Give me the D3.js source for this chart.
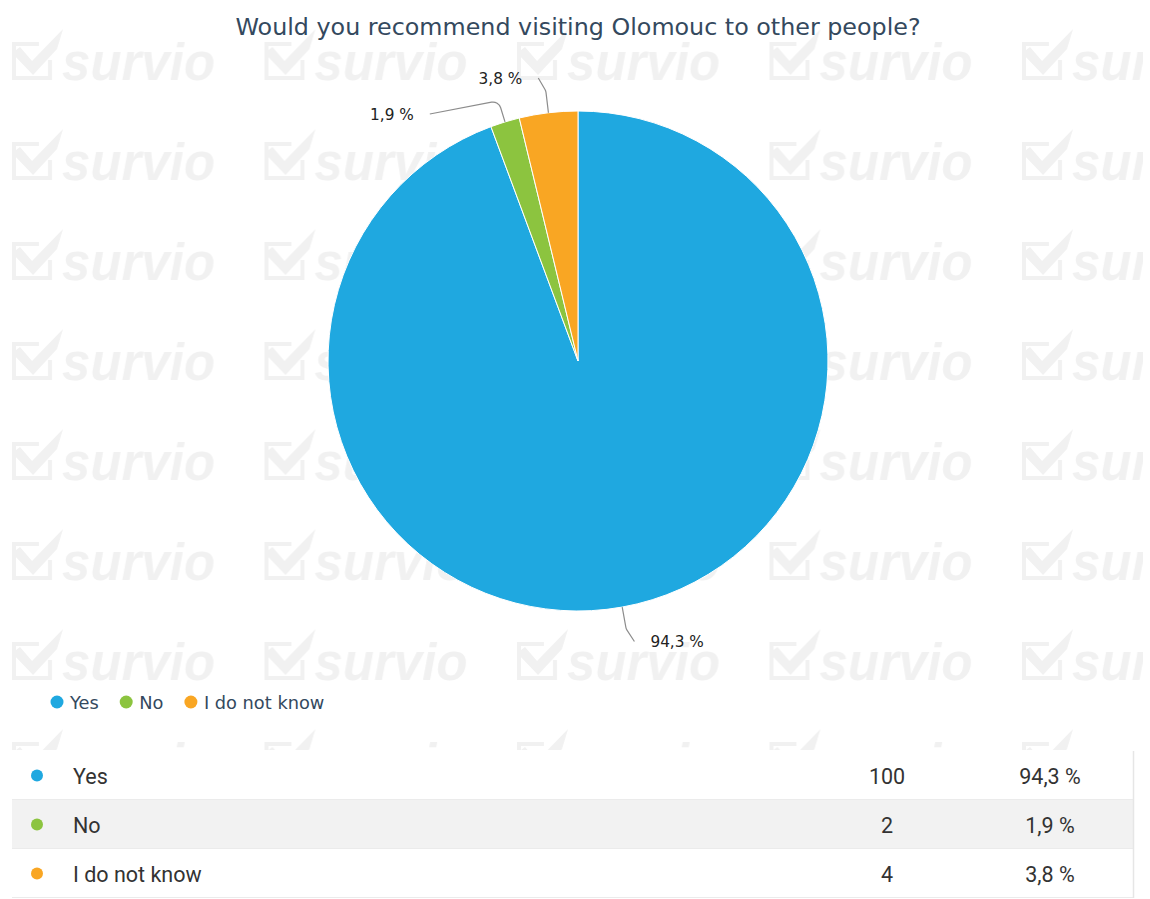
<!DOCTYPE html>
<html>
<head>
<meta charset="utf-8">
<script src="https://cdn.jsdelivr.net/npm/d3@7/dist/d3.min.js"></script>
<style>
  html, body { margin: 0; padding: 0; background: #ffffff; }
  svg { display: block; }
</style>
</head>
<body>
<svg id="chart" width="1150" height="899"></svg>
<script>
// Survey answers
const categories = ["Yes", "No", "I do not know"];
const counts = [100, 2, 4];
const percentLabels = ["94,3 %", "1,9 %", "3,8 %"];
const sliceColors = ["#1fa8e0", "#8cc43f", "#f9a623"];
const titleText = "Would you recommend visiting Olomouc to other people?";

const W = 1150, H = 899;
const svg = d3.select("#chart");
const defs = svg.append("defs");

// ---- background watermark, tiled as a pattern ----
const wmColor = "#f1f1f1";
const tile = defs.append("pattern")
  .attr("id", "wmTile")
  .attr("patternUnits", "userSpaceOnUse")
  .attr("x", 12).attr("y", 0)
  .attr("width", 252.5).attr("height", 100);
const tg = tile.append("g").attr("transform", "translate(0,80)");
tg.append("path")
  .attr("d", "M27,-36 L2,-36 L2,-2 L38,-2 L38,-20")
  .attr("fill", "none").attr("stroke", wmColor).attr("stroke-width", 4);
tg.append("path")
  .attr("d", "M0,-27 L8,-33 L20,-19 L51,-51 L45,-31 L21,-5 Z")
  .attr("fill", wmColor);
tg.append("text")
  .attr("x", 50).attr("y", 0)
  .attr("font-family", "Liberation Sans, Arial, sans-serif")
  .attr("font-weight", "bold").attr("font-style", "italic")
  .attr("font-size", 51)
  .attr("fill", wmColor)
  .text("survio");
svg.append("rect")
  .attr("x", 0).attr("y", 0).attr("width", 1143).attr("height", 750)
  .attr("fill", "url(#wmTile)");

// ---- title ----
svg.append("text")
  .attr("x", 578).attr("y", 35)
  .attr("text-anchor", "middle")
  .attr("font-family", "DejaVu Sans, sans-serif")
  .attr("font-size", 23.8)
  .attr("fill", "#34495e")
  .text(titleText);

// ---- pie ----
const cx = 578, cy = 361, r = 250;
const data = categories.map((c, i) => ({ name: c, value: counts[i], label: percentLabels[i], color: sliceColors[i] }));
const pie = d3.pie().sort(null).value(d => d.value);
const arcs = pie(data);
const arcGen = d3.arc().innerRadius(0).outerRadius(r);

const pieG = svg.append("g").attr("transform", `translate(${cx},${cy})`);
pieG.selectAll("path.slice")
  .data(arcs)
  .join("path")
  .attr("class", "slice")
  .attr("d", arcGen)
  .attr("fill", d => d.data.color)
  .attr("stroke", "#ffffff")
  .attr("stroke-width", 1)
  .attr("stroke-linejoin", "round");

// ---- data labels with connectors ----
const labelR = 285, breakR = r + 22, minGap = 36, connPad = 6, textPad = 22;
const labels = arcs.map(a => {
  const mid = (a.startAngle + a.endAngle) / 2;
  return {
    arc: a,
    mid,
    side: Math.sin(mid) >= 0 ? 1 : -1,
    y: -labelR * Math.cos(mid)
  };
});
// push overlapping labels apart on each side
[1, -1].forEach(side => {
  const group = labels.filter(l => l.side === side).sort((a, b) => a.y - b.y);
  for (let i = 1; i < group.length; i++) {
    if (group[i].y < group[i - 1].y + minGap) group[i].y = group[i - 1].y + minGap;
  }
});
labels.forEach(l => {
  l.x = l.side * Math.sqrt(Math.max(0, labelR * labelR - l.y * l.y));
});

const lblG = pieG.append("g");
labels.forEach(l => {
  const ex = r * Math.sin(l.mid), ey = -r * Math.cos(l.mid);
  const bx = breakR * Math.sin(l.mid), by = -breakR * Math.cos(l.mid);
  const p = d3.path();
  p.moveTo(l.x + l.side * connPad, l.y);
  p.arcTo(bx, by, ex, ey, 8);
  p.lineTo(ex, ey);
  lblG.append("path")
    .attr("d", p.toString())
    .attr("fill", "none")
    .attr("stroke", "#8c8c8c")
    .attr("stroke-width", 1.2);
  lblG.append("text")
    .attr("x", l.x + l.side * textPad)
    .attr("y", l.y + 5.5)
    .attr("text-anchor", l.side > 0 ? "start" : "end")
    .attr("font-family", "DejaVu Sans, sans-serif")
    .attr("font-size", 15.3)
    .attr("fill", "#222222")
    .text(l.arc.data.label);
});

// ---- legend ----
const legend = svg.append("g").attr("font-family", "DejaVu Sans, sans-serif").attr("font-size", 17.8);
let lx = 57;
data.forEach(d => {
  legend.append("circle").attr("cx", lx).attr("cy", 702).attr("r", 6.5).attr("fill", d.color);
  const t = legend.append("text").attr("x", lx + 13).attr("y", 708.5).attr("fill", "#34495e").text(d.name);
  lx = lx + 13 + t.node().getComputedTextLength() + 27.5;
});

// ---- summary table ----
const tableTop = 751, rowH = 49, tableLeft = 12, tableRight = 1133;
const table = svg.append("g");
table.append("rect")
  .attr("x", tableLeft).attr("y", tableTop)
  .attr("width", tableRight - tableLeft).attr("height", rowH * data.length)
  .attr("fill", "#ffffff");
const rows = table.selectAll("g.row")
  .data(data)
  .join("g")
  .attr("class", "row")
  .attr("transform", (d, i) => `translate(0,${tableTop + i * rowH})`);
rows.append("rect")
  .attr("x", tableLeft).attr("y", 0)
  .attr("width", tableRight - tableLeft).attr("height", rowH)
  .attr("fill", (d, i) => i % 2 === 1 ? "#f2f2f2" : "#ffffff");
rows.append("line")
  .attr("x1", tableLeft).attr("x2", tableRight)
  .attr("y1", rowH - 0.5).attr("y2", rowH - 0.5)
  .attr("stroke", "#ebebeb").attr("stroke-width", 1);
rows.append("circle")
  .attr("cx", 37).attr("cy", rowH / 2).attr("r", 6)
  .attr("fill", d => d.color);
const cellFont = "Roboto, Liberation Sans, Arial, sans-serif";
const cellSize = 21.5;
rows.append("text")
  .attr("x", 73).attr("y", rowH / 2 + 8)
  .attr("font-family", cellFont).attr("font-size", cellSize).attr("fill", "#333333")
  .text(d => d.name);
rows.append("text")
  .attr("x", 887).attr("y", rowH / 2 + 8)
  .attr("text-anchor", "middle")
  .attr("font-family", cellFont).attr("font-size", cellSize).attr("fill", "#333333")
  .text(d => d.value);
rows.append("text")
  .attr("x", 1050).attr("y", rowH / 2 + 8)
  .attr("text-anchor", "middle")
  .attr("font-family", cellFont).attr("font-size", cellSize).attr("fill", "#333333")
  .text(d => d.label);
table.append("line")
  .attr("x1", tableRight + 0.5).attr("x2", tableRight + 0.5)
  .attr("y1", tableTop).attr("y2", tableTop + rowH * data.length)
  .attr("stroke", "#e6e6e6").attr("stroke-width", 1.5);
</script>
</body>
</html>
